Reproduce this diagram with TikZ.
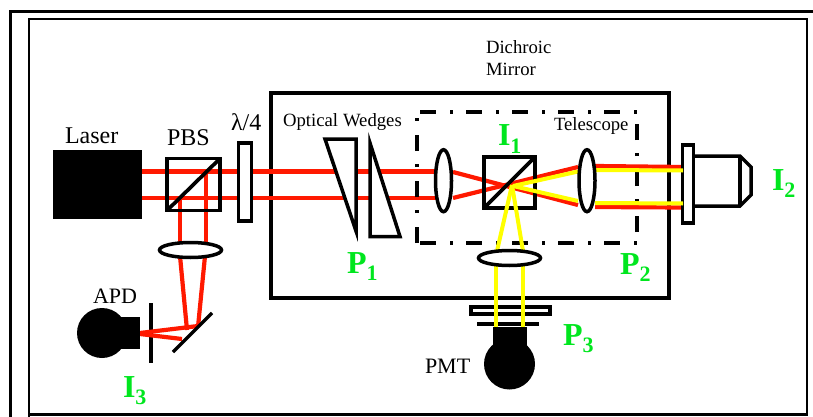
\documentclass[tikz,border=0pt]{standalone}
\usepackage{fontspec}
\usetikzlibrary{shapes.geometric}
\setmainfont{Liberation Serif}
\definecolor{grn}{RGB}{0,230,30}
\definecolor{rd}{RGB}{255,25,0}
\definecolor{yl}{RGB}{255,255,0}
\tikzset{
  x=1pt,y=-1pt,
  every node/.append style={outer sep=0pt},
  blk/.style={draw=black,line width=3.5pt,fill=white,inner sep=0pt,anchor=north west},
  bsbox/.style={draw=black,line width=3.7pt,inner sep=0pt,anchor=north west},
  redray/.style={draw=rd,line width=4.2pt},
  yelray/.style={draw=yl,line width=4pt},
  biglab/.style={font=\fontsize{24}{28}\selectfont,text=black,inner sep=0pt,anchor=base west},
  midlab/.style={font=\fontsize{22}{26}\selectfont,text=black,inner sep=0pt,anchor=base west},
  smalllab/.style={font=\fontsize{18.7}{22}\selectfont,text=black,inner sep=0pt,anchor=base west},
  glab/.style={font=\fontsize{32}{36}\selectfont\bfseries,text=grn,inner sep=0pt,anchor=base west},
  solidblack/.style={fill=black,draw=none,inner sep=0pt},
  lensv/.style={draw=black,line width=3.5pt,fill=white,ellipse,minimum width=16,minimum height=62,inner sep=0pt},
  lensh/.style={draw=black,line width=3.5pt,fill=white,ellipse,minimum width=62,minimum height=15,inner sep=0pt},
  dashdot/.style={black,line width=4pt,dash pattern=on 16pt off 14pt on 3pt off 13pt},
}
\newcommand{\gsub}[2]{#1\raisebox{-7pt}{\fontsize{22}{24}\selectfont #2}}
\begin{document}
\begin{tikzpicture}
\useasboundingbox (0,0) rectangle (813,417);
% frames
\draw[black,line width=3.5pt] (10.5,417) -- (10.5,11.5) -- (813,11.5);
\draw[black,line width=2.4pt] (29,417) -- (29,19) -- (807,19) -- (807,414.5) -- (29,414.5);
% main box
\node[draw=black,line width=3.5pt,minimum width=398,minimum height=205,inner sep=0pt,anchor=north west] (mainbox) at (271,93) {};
% iris in front of the APD
\draw[black,line width=4pt] (151,303) -- (151,363);
% red rays
\draw[redray] (142,171.5) -- (436,171.5);
\draw[redray] (142,198) -- (436,198);
\draw[redray] (180,198) -- (180,244);
\draw[redray] (206,171.5) -- (206,244);
\draw[redray] (180,256) -- (187,330);
\draw[redray] (205,256) -- (198,327);
\draw[redray] (140,333) -- (198,326);
\draw[redray] (140,334) -- (182,339);
\draw[redray] (453,172) -- (578,205);
\draw[redray] (453,198) -- (578,167);
\draw[redray] (595,166) -- (683,167);
\draw[redray] (595,207) -- (683,207.5);
% Laser
\node[solidblack,minimum width=89,minimum height=69,anchor=north west] (laser) at (53,150) {};
\node[biglab] at (65,143) {Laser};
% PBS
\node[bsbox,minimum width=53,minimum height=52] (pbs) at (167,158.5) {};
\draw[black,line width=3.7pt] (pbs.south west) -- (pbs.north east);
\node[biglab] at (167,146) {PBS};
% lambda/4
\node[blk,minimum width=13,minimum height=78] (wp) at (238.5,143) {};
\node[biglab] at (231,130) {λ/4};
% Wedges
\draw[black,line width=3.5pt,fill=white,miter limit=10] (325,139) -- (356,139) -- (356,231) -- cycle;
\draw[black,line width=3.5pt,fill=white,miter limit=10] (370,143) -- (400,236.5) -- (370,236.5) -- cycle;
\node[smalllab] at (283,126) {Optical\hspace{5pt}Wedges};
% dash-dot box
\draw[dashdot] (420,112) -- (637,112);
\draw[dashdot] (420,243) -- (637,243);
\draw[dashdot] (417,243) -- (417,118);
\draw[dashdot] (637,232) -- (637,122);
\node[smalllab] at (554,130) {Telescope};
% beamsplitter
\node[bsbox,minimum width=51,minimum height=51] (bs) at (484,157) {};
\draw[black,line width=3.7pt] (bs.south west) -- (bs.north east);
% objective
\draw[black,line width=3.5pt] (693,156) -- (740,156) -- (751,167) -- (751,195) -- (740,206) -- (693,206);
\draw[black,line width=4pt] (740,156) -- (740,206);
\node[blk,minimum width=11,minimum height=78] (obj) at (682.5,145) {};
% PMT
\node[draw=black,line width=3.6pt,minimum width=79,minimum height=7,inner sep=0pt,anchor=north west] (filt) at (471,307) {};
\draw[black,line width=4pt] (477,324) -- (539,324);
\node[solidblack,minimum width=34,minimum height=22,anchor=north west] (pmtneck) at (493,327) {};
\node[solidblack,circle,minimum size=51] (pmt) at (509.5,364) {};
\node[midlab] at (425,373) {PMT};
% APD
\node[solidblack,circle,minimum size=50] (apd) at (102,333) {};
\node[solidblack,minimum width=20,minimum height=32,anchor=north west] (apdneck) at (120,317) {};
\node[midlab] at (93,303) {APD};
\draw[black,line width=3.5pt] (173,352) -- (212,313);
% yellow rays
\draw[yelray] (513,186) -- (578,171.5);
\draw[yelray] (513,186) -- (578,201);
\draw[yelray] (595,170) -- (683,170.5);
\draw[yelray] (595,203) -- (683,203.5);
\draw[yelray] (512,185) -- (497,251);
\draw[yelray] (512,185) -- (523,251);
\draw[yelray] (496,264) -- (496,327);
\draw[yelray] (523,264) -- (523,327);
% lenses
\node[lensv] (lens1) at (443.5,180.7) {};
\node[lensv] (lens2) at (587,180.7) {};
\node[lensh] (lens3) at (509.5,258) {};
\node[lensh] (lens4) at (190.5,250) {};
% Labels
\node[smalllab] at (486,54) {Dichroic};
\node[smalllab] at (486,76) {Mirror};
\node[glab] at (498,146) {\gsub{I}{1}};
\node[glab] at (772,190) {\gsub{I}{2}};
\node[glab] at (123,397) {\gsub{I}{3}};
\node[glab] at (347,273) {\gsub{P}{1}};
\node[glab] at (620,274) {\gsub{P}{2}};
\node[glab] at (563,345) {\gsub{P}{3}};
\end{tikzpicture}
\end{document}
